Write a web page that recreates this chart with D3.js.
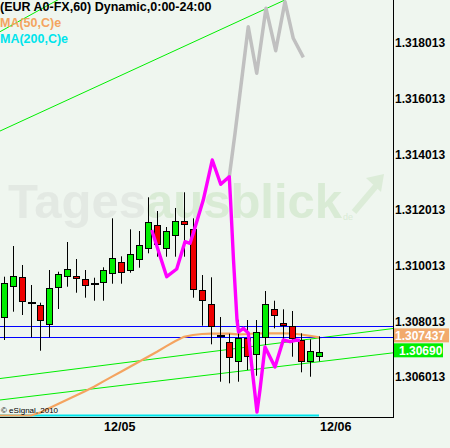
<!DOCTYPE html>
<html><head><meta charset="utf-8">
<script src="https://cdn.jsdelivr.net/npm/d3@7"></script>
<style>html,body{margin:0;padding:0;background:#eff6ef;overflow:hidden}</style>
</head><body><svg id="c" width="450" height="448"></svg>
<script>
// ---- data (hourly EUR candles, index 0..35) ----
const open  = [1.308179,1.309293,1.309595,1.308682,1.308589,1.307906,1.309257,1.309652,1.309652,1.309523,1.309343,1.309415,1.309738,1.310134,1.309846,1.310241,1.310637,1.311463,1.310637,1.311104,1.311607,1.311319,1.309127,1.308624,1.307496,1.307259,1.306576,1.307403,1.306828,1.307439,1.308445,1.307942,1.307834,1.307331,1.306576,1.306756];
const high  = [1.309616,1.310719,1.310037,1.309318,1.308682,1.309857,1.309796,1.310863,1.310252,1.309857,1.309580,1.309954,1.311714,1.310349,1.311319,1.311258,1.312469,1.311977,1.311402,1.312085,1.312649,1.311714,1.309677,1.309595,1.308168,1.307568,1.308050,1.308060,1.308060,1.309102,1.308754,1.308445,1.308384,1.307583,1.307367,1.307475];
const low   = [1.307342,1.308359,1.308240,1.307439,1.306957,1.307439,1.308456,1.309257,1.309041,1.308862,1.308754,1.308754,1.309365,1.309365,1.309760,1.309940,1.310457,1.310335,1.310335,1.310335,1.310335,1.308862,1.307856,1.307187,1.305844,1.305786,1.305844,1.306264,1.306059,1.307162,1.307762,1.307259,1.306742,1.306181,1.306023,1.306576];
const close = [1.309379,1.309641,1.308754,1.308682,1.308060,1.309199,1.309702,1.309882,1.309559,1.309307,1.309343,1.309846,1.310277,1.309774,1.310421,1.310744,1.311571,1.310780,1.311247,1.311607,1.311499,1.309163,1.308768,1.307856,1.307496,1.306720,1.307431,1.306756,1.307618,1.308624,1.308229,1.307870,1.307403,1.306576,1.306936,1.306900];

// moving averages, index -1..35
const maStart = -1;
const ma50  = [1.30440,1.30445,1.30450,1.30455,1.30460,1.304733,1.304888,1.305042,1.305193,1.305348,1.305499,1.305660,1.305847,1.306027,1.306203,1.306382,1.306558,1.306742,1.306921,1.307115,1.307295,1.307457,1.307521,1.307557,1.307568,1.307575,1.307568,1.307547,1.307557,1.307575,1.307583,1.307583,1.307583,1.307575,1.307540,1.307490,1.307437];
const ma200 = [1.30301,1.30302,1.30302,1.30303,1.30304,1.30304,1.30305,1.30306,1.30306,1.30307,1.30308,1.30308,1.30309,1.30310,1.30310,1.30311,1.30312,1.30313,1.30314,1.30315,1.30316,1.30317,1.30318,1.30318,1.30319,1.30320,1.30320,1.30321,1.30322,1.30322,1.30323,1.30323,1.30324,1.30324,1.30325,1.30325,1.30326];

// pattern path (magenta) and projection (grey)
const patT = [16.41,18.08,19.19,20.11,20.67,21.03,22.14,23.14,24.08,25.03,25.17,25.50,25.89,26.06,26.59,27.14,27.52,28.11,28.44,29.00,30.11,31.03,31.78,32.52,32.89];
const patP = [1.311294,1.309616,1.309893,1.310874,1.310816,1.311175,1.312372,1.313809,1.312936,1.313209,1.312372,1.310216,1.308061,1.307629,1.307762,1.307593,1.306444,1.304755,1.305545,1.307090,1.306372,1.307342,1.307281,1.307342,1.307324];
const projT = [25.03,25.67,27.14,28.08,29.11,30.19,31.22,32.14,33.26];
const projP = [1.313209,1.314769,1.318599,1.316924,1.319260,1.317736,1.319497,1.318182,1.317499];

// trend lines: two anchor points each
const trendT1 = [0, 0, 0, 0];
const trendP1 = [1.314916, 1.318498, 1.305976, 1.305204];
const trendT2 = [40, 10, 40, 40];
const trendP2 = [1.320866, 1.320277, 1.307622, 1.306756];

const levels = [1.30784, 1.30743];

const yTicks = [1.306013,1.308013,1.310013,1.312013,1.314013,1.316013,1.318013];
const xTickT = [12.8, 36.8];
const xLabels = ["12/05", "12/06"];

const title = "(EUR A0-FX,60) Dynamic,0:00-24:00";
const maLabels = ["MA(50,C)e", "MA(200,C)e"];
const lastMA50 = 1.307437, lastClose = 1.30690;

// ---- drawing ----
const W = 393, H = 417;
const svg = d3.select("#c");
const FONT = "'Liberation Sans', Arial, sans-serif";
const x = d3.scaleLinear().domain([0, 35]).range([4, 319]);
const y = d3.scaleLinear().domain([1.306013, 1.318013]).range([377, 43]);
const yc = v => Math.min(y(v), 415.5);

svg.append("rect").attr("width", 450).attr("height", 448).attr("fill", "#eff6ef");

const defs = svg.append("defs");
defs.append("clipPath").attr("id", "plot").append("rect").attr("x", 0).attr("y", 0).attr("width", W).attr("height", H);

// watermark
const wm = svg.append("g");
const wt = wm.append("text").attr("x", 8).attr("y", 218).attr("font-family", FONT)
  .attr("font-weight", "bold").attr("font-size", 49);
wt.append("tspan").attr("fill", "#e3e9e3").text("Tages");
wt.append("tspan").attr("fill", "#d9ebd5").text("ausblick");
wm.append("text").attr("x", 343).attr("y", 220).attr("font-family", FONT).attr("font-size", 9)
  .attr("fill", "#d9ebd5").text("de");
wm.append("line").attr("x1", 354).attr("y1", 212).attr("x2", 376).attr("y2", 186)
  .attr("stroke", "#dcecd8").attr("stroke-width", 6);
wm.append("path").attr("d", "M366,178 L384,174 L381,192 Z").attr("fill", "#dcecd8");

const plot = svg.append("g").attr("clip-path", "url(#plot)");

// trend lines
trendT1.forEach((t1, i) => {
  const s = (trendP2[i] - trendP1[i]) / (trendT2[i] - t1);
  const ta = -2, tb = 46;
  plot.append("line")
    .attr("x1", x(ta)).attr("y1", y(trendP1[i] + s * (ta - t1)))
    .attr("x2", x(tb)).attr("y2", y(trendP1[i] + s * (tb - t1)))
    .attr("stroke", "#00ee00").attr("stroke-width", 1);
});

// horizontal levels
levels.forEach(v => {
  const yy = Math.floor(y(v)) + 0.5;
  plot.append("line").attr("x1", 0).attr("x2", W)
    .attr("y1", yy).attr("y2", yy)
    .attr("stroke", "#0000ff").attr("stroke-width", 1);
});

// moving averages
const maLine = d3.line().x((d, i) => x(i + maStart)).y(d => yc(d));
plot.append("path").datum(ma200).attr("d", maLine).attr("fill", "none")
  .attr("stroke", "#00e4ec").attr("stroke-width", 2.2);
plot.append("path").datum(ma50).attr("d", maLine).attr("fill", "none")
  .attr("stroke", "#f4a460").attr("stroke-width", 2.2);

// candles
const idx = d3.range(open.length);
const cg = plot.append("g");
idx.forEach(i => {
  const cx = Math.round(x(i));
  cg.append("line").attr("x1", cx + 0.5).attr("x2", cx + 0.5)
    .attr("y1", y(high[i])).attr("y2", y(low[i])).attr("stroke", "#000").attr("stroke-width", 1);
  const top = Math.round(y(Math.max(open[i], close[i])));
  const bot = Math.round(y(Math.min(open[i], close[i])));
  if (bot - top < 2) {
    cg.append("rect").attr("x", cx - 3).attr("y", top - 1).attr("width", 8).attr("height", 2).attr("fill", "#000");
  } else {
    cg.append("rect").attr("x", cx - 2.5).attr("y", top + 0.5).attr("width", 6).attr("height", bot - top)
      .attr("fill", close[i] >= open[i] ? "#00ee00" : "#ee0000").attr("stroke", "#000").attr("stroke-width", 1);
  }
});

// pattern lines
const pl = d3.line().x(d => x(d[0])).y(d => y(d[1]));
plot.append("path").datum(projT.map((t, i) => [t, projP[i]])).attr("d", pl).attr("fill", "none")
  .attr("stroke", "#c0c0c0").attr("stroke-width", 3.5).attr("stroke-linejoin", "round");
plot.append("path").datum(patT.map((t, i) => [t, patP[i]])).attr("d", pl).attr("fill", "none")
  .attr("stroke", "#ff00ff").attr("stroke-width", 3.4).attr("stroke-linejoin", "round");

// frame
svg.append("line").attr("x1", W + 0.5).attr("x2", W + 0.5).attr("y1", 0).attr("y2", H + 1).attr("stroke", "#000");
svg.append("line").attr("x1", 0).attr("x2", W + 1).attr("y1", H + 0.5).attr("y2", H + 0.5).attr("stroke", "#000");

// axes
const ya = svg.append("g").attr("transform", `translate(${W},0)`)
  .call(d3.axisRight(y).tickValues(yTicks).tickFormat(d3.format(".6f")).tickSize(0).tickPadding(2));
ya.select(".domain").remove();
ya.selectAll("text").attr("font-family", FONT).attr("font-weight", "bold").attr("font-size", 12).attr("fill", "#000");

const xa = svg.append("g").attr("transform", `translate(0,${H})`)
  .call(d3.axisBottom(x).tickValues(xTickT).tickFormat((d, i) => xLabels[i]).tickSize(0).tickPadding(5));
xa.select(".domain").remove();
xa.selectAll("text").attr("font-family", FONT).attr("font-weight", "bold").attr("font-size", 12.5).attr("fill", "#000");

// value boxes
function box(v, txt, fill, w, tx) {
  const cy = y(v) - 2;
  svg.append("rect").attr("x", W + 1).attr("y", cy - 7).attr("width", w).attr("height", 14).attr("fill", fill);
  svg.append("text").attr("x", tx).attr("y", cy).attr("dy", "0.36em").attr("font-family", FONT)
    .attr("font-weight", "bold").attr("font-size", 12).attr("fill", "#fff").text(txt);
}
box(lastMA50, d3.format(".6f")(lastMA50), "#f2aa6c", 55, 395);
box(lastClose, d3.format(".5f")(lastClose), "#00ee00", 49, 399);

// titles
svg.append("text").attr("x", 0).attr("y", 11).attr("font-family", FONT).attr("font-weight", "bold")
  .attr("font-size", 12.5).attr("fill", "#000").text(title);
svg.append("text").attr("x", 0).attr("y", 27).attr("font-family", FONT).attr("font-weight", "bold")
  .attr("font-size", 12.5).attr("fill", "#f4a460").text(maLabels[0]);
svg.append("text").attr("x", 0).attr("y", 43).attr("font-family", FONT).attr("font-weight", "bold")
  .attr("font-size", 12.5).attr("fill", "#00e4ec").text(maLabels[1]);
svg.append("text").attr("x", 1).attr("y", 413).attr("font-family", FONT)
  .attr("font-size", 8).attr("fill", "#000").text("\u00a9 eSignal, 2010");
</script></body></html>
